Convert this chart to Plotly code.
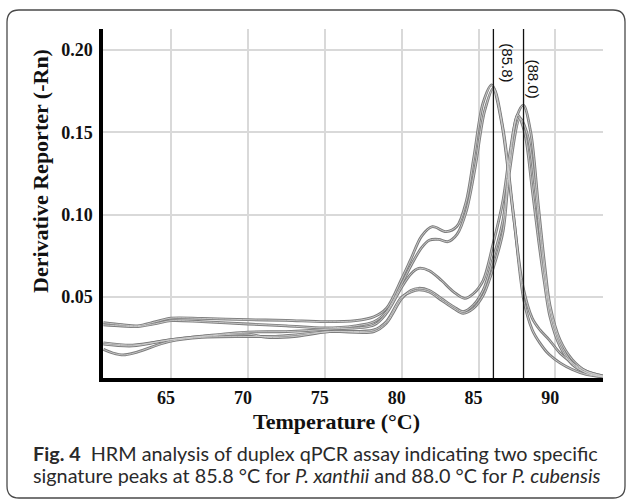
import plotly.graph_objects as go

# ---------------- data ----------------
temp_x1 = [60.6, 61.8, 62.8, 64.0, 65.0, 67.0, 70.0, 72.5, 75.0, 77.0, 78.2, 79.0, 80.0, 80.6, 81.3, 82.0, 82.9, 83.6, 84.2, 84.7, 85.3, 85.86, 86.5, 87.2, 87.9, 88.5, 89.0, 89.6, 90.3, 91.1, 92.0, 93.1]
deriv_x1 = [0.0344, 0.0332, 0.0325, 0.0350, 0.0372, 0.0370, 0.0362, 0.0358, 0.0350, 0.0356, 0.0380, 0.0430, 0.0610, 0.0730, 0.0870, 0.0927, 0.0897, 0.0930, 0.1080, 0.1350, 0.1680, 0.1788, 0.1560, 0.1050, 0.0560, 0.0370, 0.0300, 0.0240, 0.0160, 0.0100, 0.0050, 0.0020]

temp_x2 = [60.6, 61.8, 62.8, 64.0, 65.0, 67.0, 70.0, 72.5, 75.0, 77.0, 78.2, 79.0, 80.0, 80.6, 81.3, 81.8, 82.4, 83.0, 83.6, 84.2, 84.77, 85.4, 85.97, 86.6, 87.3, 87.95, 88.5, 89.0, 89.6, 90.3, 91.1, 92.0, 93.1]
deriv_x2 = [0.0331, 0.0324, 0.0320, 0.0338, 0.0356, 0.0350, 0.0336, 0.0325, 0.0312, 0.0325, 0.0350, 0.0410, 0.0580, 0.0690, 0.0800, 0.0845, 0.0850, 0.0836, 0.0880, 0.1020, 0.1280, 0.1630, 0.1768, 0.1520, 0.0980, 0.0480, 0.0300, 0.0220, 0.0150, 0.0100, 0.0060, 0.0030, 0.0015]

temp_c1 = [60.6, 62.5, 64.9, 67.0, 70.0, 72.5, 75.3, 78.2, 79.0, 80.0, 80.6, 81.1, 81.8, 82.6, 83.4, 84.1, 84.66, 85.3, 85.97, 86.6, 87.0, 87.5, 87.92, 88.4, 88.9, 89.3, 89.65, 90.3, 91.1, 92.0, 93.1]
deriv_c1 = [0.0222, 0.0208, 0.0239, 0.0262, 0.0287, 0.0290, 0.0305, 0.0330, 0.0400, 0.0560, 0.0640, 0.0674, 0.0660, 0.0600, 0.0530, 0.0492, 0.0520, 0.0600, 0.0830, 0.1090, 0.1350, 0.1600, 0.1666, 0.1500, 0.1050, 0.0700, 0.0450, 0.0240, 0.0120, 0.0050, 0.0020]

temp_c2 = [60.6, 62.5, 64.9, 67.0, 70.0, 71.2, 73.0, 75.3, 78.2, 79.0, 80.0, 80.6, 81.1, 81.8, 82.6, 83.4, 84.0, 84.66, 85.3, 85.97, 86.6, 87.0, 87.55, 88.0, 88.5, 88.9, 89.3, 89.65, 90.3, 91.1, 92.0, 93.1]
deriv_c2 = [0.0214, 0.0203, 0.0240, 0.0260, 0.0275, 0.0255, 0.0260, 0.0290, 0.0290, 0.0340, 0.0490, 0.0540, 0.0553, 0.0540, 0.0490, 0.0440, 0.0411, 0.0450, 0.0540, 0.0740, 0.0970, 0.1300, 0.1606, 0.1500, 0.1150, 0.0850, 0.0580, 0.0380, 0.0200, 0.0090, 0.0040, 0.0015]

temp_c3 = [60.6, 61.2, 61.9, 62.6, 64.9, 67.0, 70.0, 72.0, 75.3, 78.2, 79.0, 80.0, 80.6, 81.1, 81.8, 82.6, 83.4, 84.0, 84.66, 85.3, 85.97, 86.6, 87.0, 87.7, 88.2, 88.7, 89.1, 89.65, 90.3, 91.1, 92.0, 93.1]
deriv_c3 = [0.0182, 0.0160, 0.0148, 0.0160, 0.0230, 0.0255, 0.0260, 0.0262, 0.0290, 0.0300, 0.0350, 0.0500, 0.0530, 0.0543, 0.0530, 0.0480, 0.0430, 0.0401, 0.0430, 0.0510, 0.0680, 0.0900, 0.1250, 0.1586, 0.1480, 0.1150, 0.0800, 0.0420, 0.0220, 0.0100, 0.0040, 0.0015]

melt_positions = [85.97, 87.93]
melt_labels = ["(85.8)", "(88.0)"]
label_x = [86.86, 88.55]
label_y = [0.1925, 0.1827]

x_ticks = [65, 70, 75, 80, 85, 90]
y_ticks = [0.05, 0.10, 0.15, 0.20]
y_tick_text = ["0.05", "0.10", "0.15", "0.20"]

x_title = "Temperature (°C)"
y_title = "Derivative Reporter (-Rn)"
caption_1 = "<b>Fig. 4</b>  HRM analysis of duplex qPCR assay indicating two specific"
caption_2 = "signature peaks at 85.8 °C for <i>P. xanthii</i> and 88.0 °C for <i>P. cubensis</i>"

# ---------------- figure ----------------
X_RANGE = [60.57, 93.1]
Y_RANGE = [0.0008, 0.2128]
W, H = 627, 500
ML, MR, MT, MB = 103, 24, 29, 122
PW, PH = W - ML - MR, H - MT - MB


def px_x(px):
    return (px - ML) / PW


def px_y(py):
    return (H - MB - py) / PH


fig = go.Figure()

curves = [(temp_x1, deriv_x1), (temp_x2, deriv_x2), (temp_c1, deriv_c1),
          (temp_c2, deriv_c2), (temp_c3, deriv_c3)]
for tx, dy in curves:
    fig.add_trace(go.Scatter(x=tx, y=dy, mode="lines",
                             line=dict(color="#7c7c7c", width=2.8, shape="spline", smoothing=0.9),
                             hoverinfo="skip", showlegend=False))
for tx, dy in curves:
    fig.add_trace(go.Scatter(x=tx, y=dy, mode="lines",
                             line=dict(color="#cfcfcf", width=0.9, shape="spline", smoothing=0.9),
                             hoverinfo="skip", showlegend=False))

for t in melt_positions:
    fig.add_trace(go.Scatter(x=[t, t], y=[Y_RANGE[0], Y_RANGE[1]], mode="lines",
                             line=dict(color="#111111", width=1.3),
                             hoverinfo="skip", showlegend=False))

annotations = []
for lx, ly, txt in zip(label_x, label_y, melt_labels):
    annotations.append(dict(x=lx, y=ly, xref="x", yref="y", text=txt, showarrow=False,
                            textangle=90, xanchor="center", yanchor="middle",
                            font=dict(family="Liberation Sans", size=15, color="#111111")))

annotations.append(dict(x=px_x(336), y=px_y(421), xref="paper", yref="paper", text=f"<b>{x_title}</b>",
                        showarrow=False, xanchor="center", yanchor="middle",
                        font=dict(family="Liberation Serif", size=22, color="#111111")))
annotations.append(dict(x=px_x(40), y=px_y(171), xref="paper", yref="paper", text=f"<b>{y_title}</b>",
                        showarrow=False, textangle=-90, xanchor="center", yanchor="middle",
                        font=dict(family="Liberation Serif", size=22, color="#111111")))
annotations.append(dict(x=px_x(31), y=px_y(453), xref="paper", yref="paper", text=caption_1,
                        showarrow=False, xanchor="left", yanchor="middle",
                        font=dict(family="Lato", size=19.8, color="#2a2a2a")))
annotations.append(dict(x=px_x(31), y=px_y(475), xref="paper", yref="paper", text=caption_2,
                        showarrow=False, xanchor="left", yanchor="middle",
                        font=dict(family="Lato", size=19.8, color="#2a2a2a")))

# rounded frame around the whole figure
fx0, fx1 = px_x(7), px_x(625)
fy0, fy1 = px_y(498), px_y(10)
rx, ry = 12 / PW, 12 / PH
frame_path = (f"M {fx0 + rx},{fy1} L {fx1 - rx},{fy1} Q {fx1},{fy1} {fx1},{fy1 - ry} "
              f"L {fx1},{fy0 + ry} Q {fx1},{fy0} {fx1 - rx},{fy0} "
              f"L {fx0 + rx},{fy0} Q {fx0},{fy0} {fx0},{fy0 + ry} "
              f"L {fx0},{fy1 - ry} Q {fx0},{fy1} {fx0 + rx},{fy1} Z")

fig.update_layout(
    width=W, height=H,
    margin=dict(l=ML, r=MR, t=MT, b=MB),
    paper_bgcolor="white", plot_bgcolor="white",
    showlegend=False,
    annotations=annotations,
    shapes=[dict(type="path", path=frame_path, xref="paper", yref="paper",
                 line=dict(color="#4a4a4a", width=1.3), layer="below")],
)

fig.update_xaxes(range=X_RANGE, tickvals=x_ticks, ticktext=[str(v) for v in x_ticks],
                 showgrid=True, gridcolor="#d9d9d9", gridwidth=1.5,
                 showline=True, linecolor="black", linewidth=3.5,
                 ticks="", zeroline=False, ticklabelshift=-5, ticklabelstandoff=1,
                 tickfont=dict(family="Liberation Serif", size=18, color="#111111", weight="bold"))
fig.update_yaxes(range=Y_RANGE, tickvals=y_ticks, ticktext=y_tick_text,
                 showgrid=True, gridcolor="#d9d9d9", gridwidth=1.5,
                 showline=True, linecolor="black", linewidth=3.5,
                 ticks="", zeroline=False, ticklabelstandoff=3,
                 tickfont=dict(family="Liberation Serif", size=18, color="#111111", weight="bold"))

fig.write_html("out.html", config={"displayModeBar": False},
               post_script="document.body.style.margin='0';document.body.style.overflow='hidden';")
